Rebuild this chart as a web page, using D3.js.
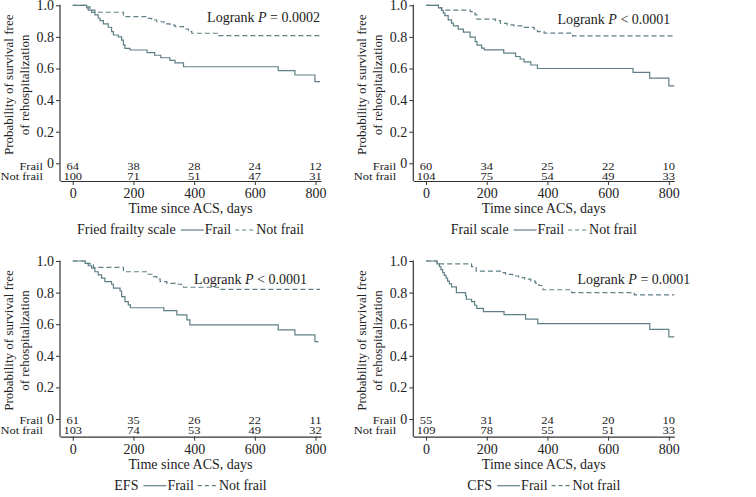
<!DOCTYPE html>
<html><head><meta charset="utf-8">
<script src="https://cdn.jsdelivr.net/npm/d3@7"></script>
<style>
body{margin:0;background:#fff}
svg text{font-family:"Liberation Serif","Times New Roman",serif;fill:#222}
</style></head><body>
<svg id="c" width="756" height="497"></svg>
<script>
// ---------- DATA ----------
const panelNames = ["Fried frailty scale", "Frail scale", "EFS", "CFS"];
const logrankOps = ["=", "<", "<", "="];
const logrankValues = ["0.0002", "0.0001", "0.0001", "0.0001"];
const xTicks = [0, 200, 400, 600, 800];
const yTicks = [0, 0.2, 0.4, 0.6, 0.8, 1.0];
const groups = ["Frail", "Not frail"];
const atRiskFrail = [[64,38,28,24,12],[60,34,25,22,10],[61,35,26,22,11],[55,31,24,20,10]];
const atRiskNotFrail = [[100,71,51,47,31],[104,75,54,49,33],[103,74,53,49,32],[109,78,55,51,33]];

const frailFried = [[0,1],[46,0.984],[51,0.97],[62,0.955],[73,0.939],[84,0.918],[90,0.903],[101,0.882],[117,0.861],[128,0.833],[134,0.812],[150,0.80],[161,0.78],[167,0.749],[172,0.728],[189,0.717],[245,0.70],[270,0.684],[290,0.668],[320,0.652],[337,0.636],[365,0.611],[677,0.586],[732,0.559],[798,0.517],[815,0.517]];
const notFrailFried = [[0,1],[50,0.99],[57,0.98],[65,0.97],[73,0.956],[167,0.928],[244,0.917],[260,0.907],[277,0.896],[300,0.882],[321,0.875],[337,0.865],[365,0.85],[381,0.835],[392,0.823],[480,0.808],[815,0.808]];
const frailFS = [[0,1],[41,0.983],[51,0.967],[57,0.95],[62,0.935],[73,0.908],[84,0.887],[90,0.87],[106,0.849],[123,0.83],[145,0.798],[162,0.77],[168,0.748],[183,0.729],[192,0.718],[256,0.697],[295,0.676],[310,0.66],[323,0.642],[345,0.622],[367,0.60],[682,0.575],[737,0.539],[800,0.49],[818,0.49]];
const notFrailFS = [[0,1],[46,0.985],[52,0.97],[146,0.96],[155,0.95],[162,0.94],[168,0.913],[229,0.903],[245,0.886],[267,0.876],[289,0.87],[323,0.86],[356,0.849],[367,0.834],[389,0.824],[483,0.807],[818,0.807]];
const frailEFS = [[0,1],[41,0.985],[51,0.97],[62,0.954],[73,0.932],[84,0.912],[95,0.891],[106,0.869],[128,0.853],[134,0.828],[156,0.81],[161,0.775],[172,0.743],[183,0.722],[190,0.704],[300,0.686],[343,0.659],[376,0.627],[386,0.596],[677,0.564],[732,0.532],[798,0.49],[810,0.49]];
const notFrailEFS = [[0,1],[46,0.985],[57,0.975],[68,0.96],[167,0.932],[249,0.916],[266,0.901],[277,0.886],[288,0.869],[310,0.859],[337,0.853],[359,0.844],[365,0.834],[480,0.821],[815,0.821]];
const frailCFS = [[0,1],[36,0.982],[44,0.964],[49,0.945],[55,0.927],[60,0.909],[66,0.891],[71,0.873],[77,0.855],[84,0.836],[100,0.80],[130,0.78],[133,0.758],[150,0.743],[160,0.72],[167,0.70],[189,0.68],[257,0.66],[328,0.632],[368,0.604],[737,0.567],[800,0.52],[818,0.52]];
const notFrailCFS = [[0,1],[36,0.982],[150,0.964],[165,0.936],[245,0.927],[262,0.915],[285,0.905],[305,0.895],[325,0.885],[345,0.872],[360,0.86],[372,0.845],[385,0.818],[480,0.80],[686,0.785],[818,0.785]];

const frailCurves = [frailFried, frailFS, frailEFS, frailCFS];
const notFrailCurves = [notFrailFried, notFrailFS, notFrailEFS, notFrailCFS];

// ---------- LAYOUT ----------
const layout = [
  {left:60,    top:5.3, lrX:260, lrY:12.7, riskY:[165,175]},
  {left:413.3, top:5.3, lrX:257, lrY:14,   riskY:[165,175]},
  {left:60,    top:261, lrX:247, lrY:18,   riskY:[163,173]},
  {left:413.3, top:261, lrX:277, lrY:18,   riskY:[163,173]}
];
const W = 261, H0 = 158, axisY = 175.7;
const lineColor = "#5f7f86";
const axisColor = "#333";

const svg = d3.select("#c");

layout.forEach((L, i) => {
  const g = svg.append("g").attr("transform", `translate(${L.left},${L.top})`);
  const x = d3.scaleLinear().domain([-42, 818]).range([0, W]);
  const y = d3.scaleLinear().domain([0, 1]).range([H0, 0]);

  // y axis
  const ya = g.append("g")
    .call(d3.axisLeft(y).tickValues(yTicks).tickSize(4).tickPadding(2)
      .tickFormat(d => d === 0 ? "0" : d3.format(".1f")(d)));
  ya.select(".domain").remove();
  ya.selectAll("line").attr("stroke", axisColor);
  ya.selectAll("text").style("font-size", "14px");
  g.append("line").attr("x1", 0).attr("x2", 0).attr("y1", y(1) - 0.5).attr("y2", axisY)
    .attr("stroke", axisColor).attr("stroke-width", 1.2);

  // x axis
  const xa = g.append("g").attr("transform", `translate(0,${axisY})`)
    .call(d3.axisBottom(x).tickValues(xTicks).tickSize(4).tickSizeOuter(0).tickPadding(3));
  xa.select(".domain").attr("stroke", axisColor).attr("stroke-width", 1.2);
  xa.selectAll("line").attr("stroke", axisColor);
  xa.selectAll("text").style("font-size", "14px");

  // curves
  const line = d3.line().x(d => x(d[0])).y(d => y(d[1])).curve(d3.curveStepAfter);
  g.append("path").datum(frailCurves[i]).attr("d", line)
    .attr("fill", "none").attr("stroke", lineColor).attr("stroke-width", 1.2);
  g.append("path").datum(notFrailCurves[i]).attr("d", line)
    .attr("fill", "none").attr("stroke", lineColor).attr("stroke-width", 1.2)
    .attr("stroke-dasharray", "5,3");

  // numbers at risk (vertically compressed, as in the reference)
  const rows = [atRiskFrail[i], atRiskNotFrail[i]];
  rows.forEach((r, k) => {
    const ry = L.riskY[k];
    g.append("text").attr("transform", `translate(-17,${ry}) scale(1,0.8)`)
      .attr("text-anchor", "end").style("font-size", "12.5px").text(groups[k]);
    g.selectAll(null).data(r).enter().append("text")
      .attr("transform", (d, j) => `translate(${x(xTicks[j])},${ry}) scale(1,0.8)`)
      .attr("text-anchor", "middle").style("font-size", "12.5px").text(d => d);
  });

  // axis titles
  g.append("text").attr("x", W / 2).attr("y", 208.2).attr("text-anchor", "middle")
    .style("font-size", "14px").text("Time since ACS, days");
  const yt = g.append("text").attr("transform", `translate(0,${H0 / 2 + 0.5}) rotate(-90)`)
    .attr("text-anchor", "middle").style("font-size", "13px");
  yt.append("tspan").attr("x", 0).attr("y", -47).text("Probability of survival free");
  yt.append("tspan").attr("x", 0).attr("y", -31).text("of rehospitalization");

  // logrank
  const lr = g.append("text").attr("x", L.lrX).attr("y", L.lrY + 4.5).attr("text-anchor", "end")
    .style("font-size", "14px");
  lr.append("tspan").text("Logrank ");
  lr.append("tspan").style("font-style", "italic").text("P");
  lr.append("tspan").text(` ${logrankOps[i]} ${logrankValues[i]}`);

  // legend
  const lg = g.append("g");
  let cx = 0;
  const ly = 229.2;
  const t1 = lg.append("text").attr("x", cx).attr("y", ly).style("font-size", "14px").text(panelNames[i]);
  cx += t1.node().getComputedTextLength() + 5;
  lg.append("line").attr("x1", cx).attr("x2", cx + 23).attr("y1", ly - 4.5).attr("y2", ly - 4.5)
    .attr("stroke", lineColor).attr("stroke-width", 1.2);
  cx += 24;
  const t2 = lg.append("text").attr("x", cx).attr("y", ly).style("font-size", "14px").text(groups[0]);
  cx += t2.node().getComputedTextLength() + 4;
  lg.append("line").attr("x1", cx).attr("x2", cx + 20).attr("y1", ly - 4.5).attr("y2", ly - 4.5)
    .attr("stroke", lineColor).attr("stroke-width", 1.2).attr("stroke-dasharray", "4,3");
  cx += 21;
  const t3 = lg.append("text").attr("x", cx).attr("y", ly).style("font-size", "14px").text(groups[1]);
  cx += t3.node().getComputedTextLength();
  lg.attr("transform", `translate(${W / 2 - cx / 2},0)`);
});
</script>
</body></html>
